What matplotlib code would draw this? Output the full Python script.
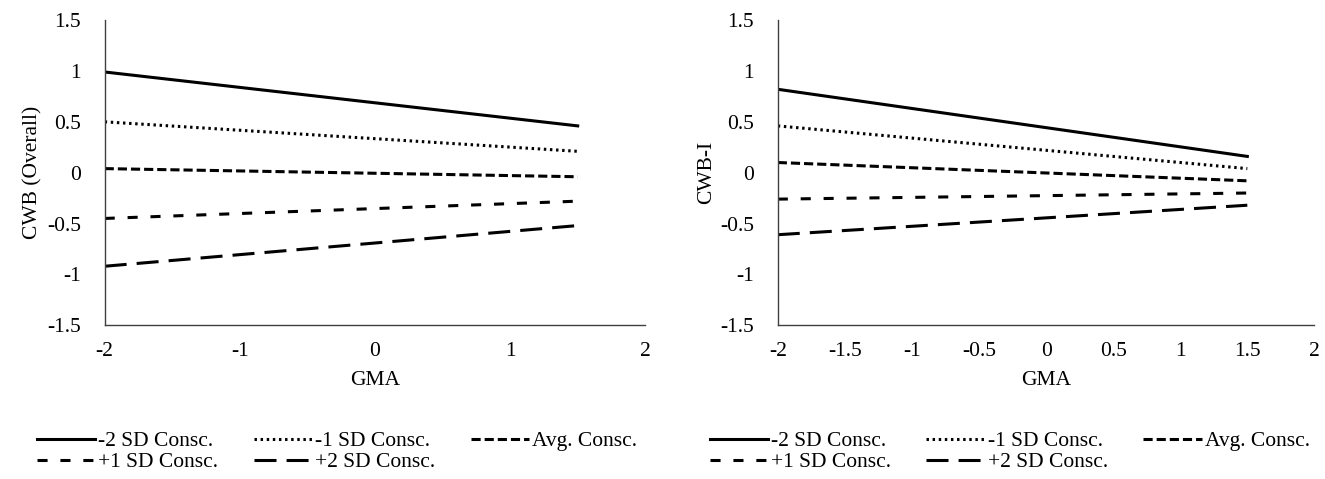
import matplotlib
matplotlib.use("Agg")
import matplotlib.pyplot as plt

plt.rcParams['font.family'] = ['Liberation Serif', 'DejaVu Serif']

gma = [-2, 1.5]
series_labels = ["-2 SD Consc.", "-1 SD Consc.", "Avg. Consc.", "+1 SD Consc.", "+2 SD Consc."]

left_m2 = [0.99, 0.46]
left_m1 = [0.50, 0.21]
left_avg = [0.04, -0.04]
left_p1 = [-0.45, -0.28]
left_p2 = [-0.92, -0.52]

right_m2 = [0.82, 0.16]
right_m1 = [0.46, 0.04]
right_avg = [0.10, -0.08]
right_p1 = [-0.26, -0.20]
right_p2 = [-0.61, -0.32]

left_xticks = [-2, -1, 0, 1, 2]
right_xticks = [-2, -1.5, -1, -0.5, 0, 0.5, 1, 1.5, 2]
yticks = [-1.5, -1, -0.5, 0, 0.5, 1, 1.5]

styles = [
    dict(linestyle='-'),
    dict(linestyle=(0, (0.8, 1.2))),
    dict(linestyle=(0, (3.0, 1.3))),
    dict(linestyle=(0, (3.3, 4.2))),
    dict(linestyle=(0, (7.2, 3.3))),
]

FS = 15.5

def fmt(v):
    return '%g' % v

fig = plt.figure(figsize=(13.25, 4.79), dpi=100)
ax1 = fig.add_axes([0.079, 0.321, 0.408, 0.637])
ax2 = fig.add_axes([0.587, 0.321, 0.405, 0.637])

for ax, data, xt, ylab in [
    (ax1, [left_m2, left_m1, left_avg, left_p1, left_p2], left_xticks, "CWB (Overall)"),
    (ax2, [right_m2, right_m1, right_avg, right_p1, right_p2], right_xticks, "CWB-I"),
]:
    for vals, lab, st in zip(data, series_labels, styles):
        ax.plot(gma, vals, color='black', linewidth=2.2, label=lab, **st)
    ax.set_xlim(-2, 2)
    ax.set_ylim(-1.5, 1.5)
    ax.set_xticks(xt)
    ax.set_xticklabels([fmt(v) for v in xt])
    ax.set_yticks(yticks)
    ax.set_yticklabels([fmt(v) for v in yticks])
    ax.tick_params(length=0, labelsize=FS, pad=12)
    ax.tick_params(axis='y', pad=17)
    for s in ['top', 'right']:
        ax.spines[s].set_visible(False)
    for s in ['left', 'bottom']:
        ax.spines[s].set_color('#404040')
        ax.spines[s].set_linewidth(1.0)
    ax.set_xlabel("GMA", fontsize=FS, labelpad=7)
    ax.set_ylabel(ylab, fontsize=FS, labelpad=3)

order = [0, 3, 1, 4, 2]
for ax, x0 in [(ax1, 0.0214), (ax2, 0.529)]:
    h, l = ax.get_legend_handles_labels()
    ax.legend([h[i] for i in order], [l[i] for i in order],
              loc='upper left', bbox_to_anchor=(x0, 0.118), bbox_transform=fig.transFigure,
              ncol=3, frameon=False, fontsize=FS, handlelength=2.7, handletextpad=0.15,
              columnspacing=1.65, labelspacing=0.05, borderaxespad=0)

fig.savefig("out.png", dpi=100)
